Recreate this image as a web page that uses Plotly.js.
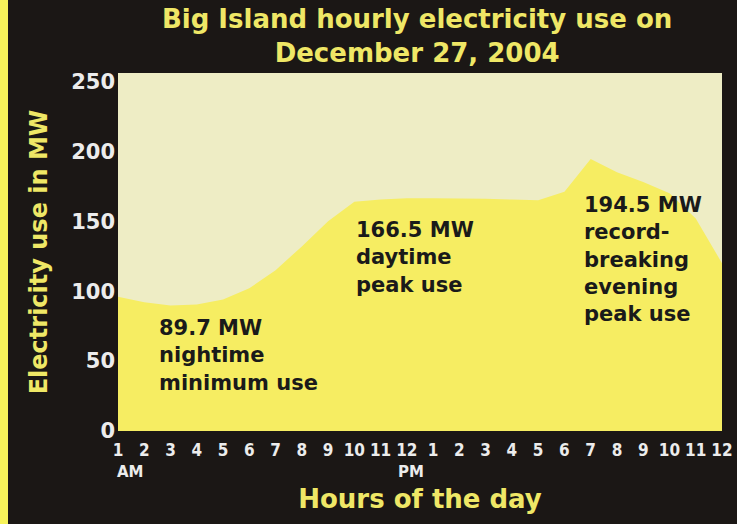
<!DOCTYPE html>
<html>
<head>
<meta charset="utf-8">
<script src="https://cdn.plot.ly/plotly-3.0.1.min.js"></script>
<style>
html,body{margin:0;padding:0;background:#1b1715;}
#chart{width:737px;height:524px;}
</style>
</head>
<body>
<div id="chart"></div>
<script>
// Data
const hours = [1,2,3,4,5,6,7,8,9,10,11,12,13,14,15,16,17,18,19,20,21,22,23,24];
const hourLabels = ['1','2','3','4','5','6','7','8','9','10','11','12','1','2','3','4','5','6','7','8','9','10','11','12'];
const usageMW = [96,92,89.7,90.5,94,102,115,132,150,164,165.5,166.5,166.5,166.5,166,165.5,165,171,194.5,185,178,170,152,120];
const yTicks = [0,50,100,150,200,250];

const FONT = '"DejaVu Sans", Verdana, sans-serif';
const COND = '"DejaVu Sans Condensed", "DejaVu Sans", sans-serif';
const YELLOW = '#efe766';
const WHITE = '#ececec';

const trace = {
  x: hours, y: usageMW, type: 'scatter', mode: 'lines',
  fill: 'tozeroy', fillcolor: '#f6ed62',
  line: {width: 0, color: '#f6ed62'},
  hoverinfo: 'x+y'
};

const annFont = {family: FONT, size: 21, color: '#1a1a1a', weight: 'bold'};
const ampmFont = {family: FONT, size: 15, color: WHITE, weight: 'bold'};

const layout = {
  width: 737, height: 524,
  paper_bgcolor: '#1b1715', plot_bgcolor: '#eeedc5',
  margin: {l: 118, r: 15, t: 73, b: 93},
  showlegend: false,
  title: {
    text: 'Big Island hourly electricity use on<br>December 27, 2004',
    font: {family: FONT, size: 26, color: YELLOW, weight: 'bold'},
    x: 0.566, xanchor: 'center', xref: 'container',
    y: 0.946, yanchor: 'top', yref: 'container'
  },
  xaxis: {
    range: [1, 24], tickmode: 'array', tickvals: hours, ticktext: hourLabels,
    showgrid: false, zeroline: false, showline: false, ticks: '',
    tickfont: {family: COND, size: 17, color: WHITE, weight: 'bold'},
    tickangle: 0, ticklabelstandoff: 7,
    title: {text: 'Hours of the day', font: {family: FONT, size: 26, color: YELLOW, weight: 'bold'}, standoff: 30},
    fixedrange: true
  },
  yaxis: {
    range: [0, 256], tickmode: 'array', tickvals: yTicks,
    showgrid: false, zeroline: false, showline: false, ticks: '',
    tickfont: {family: FONT, size: 21, color: WHITE, weight: 'bold'},
    ticklabelstandoff: 2,
    title: {text: 'Electricity use in MW', font: {family: FONT, size: 24, color: YELLOW, weight: 'bold'}, standoff: 16},
    fixedrange: true
  },
  shapes: [{
    type: 'rect', xref: 'paper', yref: 'paper',
    x0: -118/604, x1: -110/604, y0: -93/358, y1: 431/358,
    fillcolor: '#f7f35a', line: {width: 0}, layer: 'above'
  }],
  annotations: [
    {xref: 'paper', yref: 'paper', x: -3/604, y: -41/358, xanchor: 'left', yanchor: 'middle', showarrow: false,
     text: 'AM', font: ampmFont},
    {xref: 'paper', yref: 'paper', x: 278/604, y: -41/358, xanchor: 'left', yanchor: 'middle', showarrow: false,
     text: 'PM', font: ampmFont},
    {xref: 'paper', yref: 'paper', x: 39/604, y: (431-314)/358, xanchor: 'left', yanchor: 'top', align: 'left', showarrow: false,
     text: '89.7 MW<br>nightime<br>minimum use', font: annFont},
    {xref: 'paper', yref: 'paper', x: 236/604, y: (431-216)/358, xanchor: 'left', yanchor: 'top', align: 'left', showarrow: false,
     text: '166.5 MW<br>daytime<br>peak use', font: annFont},
    {xref: 'paper', yref: 'paper', x: 464/604, y: (431-191)/358, xanchor: 'left', yanchor: 'top', align: 'left', showarrow: false,
     text: '194.5 MW<br>record-<br>breaking<br>evening<br>peak use', font: annFont}
  ]
};

Plotly.newPlot('chart', [trace], layout, {displayModeBar: false, staticPlot: true});
</script>
</body>
</html>
